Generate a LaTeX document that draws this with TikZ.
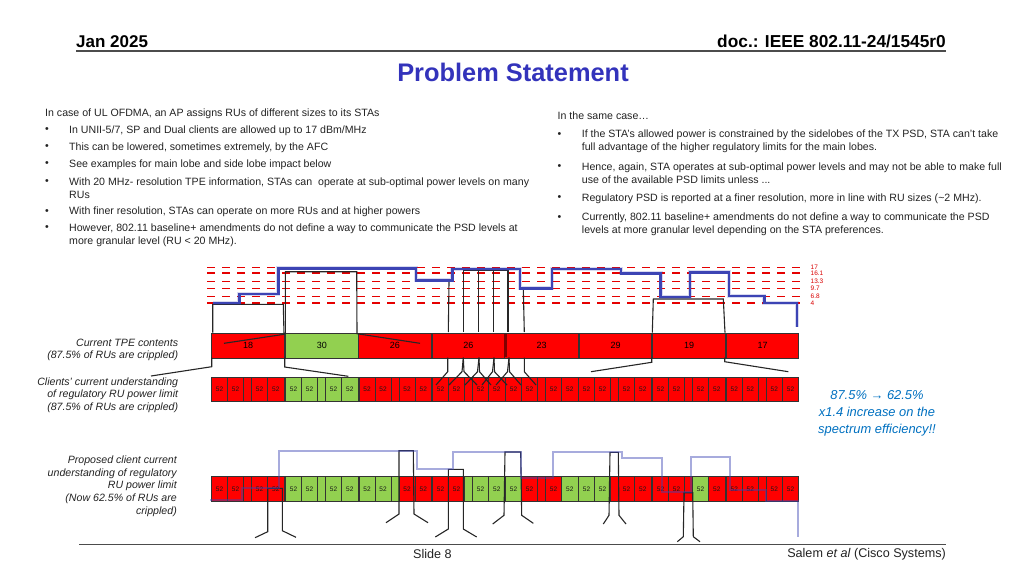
\documentclass[tikz,border=0pt]{standalone}
\usepackage{fontspec}
\setmainfont{Liberation Sans}
\definecolor{rured}{HTML}{FF0000}
\definecolor{rugreen}{HTML}{92D050}
\definecolor{titleblue}{HTML}{3333BB}
\definecolor{psdblue}{HTML}{3C44B4}
\definecolor{noteblue}{HTML}{0070C0}
\definecolor{txtgray}{HTML}{222222}
\tikzset{
	txt/.style={inner sep=0pt, anchor=west, align=left, text=txtgray, font=\fontsize{10.6}{12.8}\selectfont},
	sidenote/.style={inner sep=0pt, anchor=east, align=right, text=txtgray, font=\itshape\fontsize{10.6}{12.7}\selectfont},
	rucell/.style={draw=black!80, line width=1.1pt, inner sep=0pt, anchor=north west, minimum height=24.5pt, text=black!90, font=\fontsize{6.5}{7}\selectfont},
	tpecell/.style={draw=black!80, line width=1.1pt, inner sep=0pt, anchor=north west, minimum height=24.5pt, text=black, font=\fontsize{9}{10}\selectfont},
	limit/.style={draw=red!90!black, line width=1.3pt, dash pattern=on 8pt off 7pt},
	limittxt/.style={inner sep=0pt, anchor=west, text=red!85!black, font=\fontsize{6.5}{7}\selectfont},
	psdline/.style={draw=psdblue, line width=2.4pt, line join=miter, preaction={draw=psdblue, opacity=.2, line width=4pt}},
	psdpale/.style={draw=psdblue, line width=2.2pt, opacity=.45},
	zoomline/.style={draw=black!85, line width=1.1pt},
}
\begin{document}
\begin{tikzpicture}[x=1pt, y=-1pt]
\useasboundingbox (0,0) rectangle (1024,576);

% header and footer
\node[inner sep=0pt, anchor=base west, font=\bfseries\fontsize{17}{18}\selectfont] (date) at (76,47) {Jan 2025};
\node[inner sep=0pt, anchor=base east, font=\bfseries\fontsize{17.3}{18}\selectfont] (doc) at (946,47) {doc.: IEEE 802.11-24/1545r0};
\node[inner sep=0pt, text=titleblue, font=\bfseries\fontsize{25.4}{28}\selectfont] (title) at (513,72) {Problem Statement};
\draw[black!70, line width=1.3pt] (76,51) -- (946,51);
\draw[black!70, line width=1.5pt] (79,544.5) -- (946,544.5);
\node[inner sep=0pt, text=txtgray, font=\fontsize{12.6}{14}\selectfont] (slide) at (432.5,554) {Slide 8};
\node[inner sep=0pt, anchor=east, text=txtgray, font=\fontsize{12.6}{14}\selectfont] (author) at (946,554) {Salem \textit{et al} (Cisco Systems)};

% left column
\node[txt] (lhead) at (45,113.3) {In case of UL OFDMA, an AP assigns RUs of different sizes to its STAs};
\foreach \y [count=\i] in {130.3,147.3,164.3,181.7,211.7,228.3}
	\node[txt] (lbul\i) at (45,\y) {•};
\node[txt] (la) at (69,130.3) {In UNII-5/7, SP and Dual clients are allowed up to 17 dBm/MHz};
\node[txt] (lb) at (69,147.3) {This can be lowered, sometimes extremely, by the AFC};
\node[txt] (lc) at (69,164.3) {See examples for main lobe and side lobe impact below};
\node[txt] (ld) at (69,188) {With 20 MHz- resolution TPE information, STAs can\ \ operate at sub-optimal power levels on many\\RUs};
\node[txt] (le) at (69,211.7) {With finer resolution, STAs can operate on more RUs and at higher powers};
\node[txt] (lf) at (69,235) {However, 802.11 baseline+ amendments do not define a way to communicate the PSD levels at\\more granular level (RU < 20 MHz).};

% right column
\node[txt] (rhead) at (557.5,115.3) {In the same case…};
\foreach \y [count=\i] in {134.7,166.7,198.3,218}
	\node[txt] (rbul\i) at (557.5,\y) {•};
\node[txt] (ra) at (581.7,141) {If the STA’s allowed power is constrained by the sidelobes of the TX PSD, STA can’t take\\full advantage of the higher regulatory limits for the main lobes.};
\node[txt] (rb) at (581.7,173) {Hence, again, STA operates at sub-optimal power levels and may not be able to make full\\use of the available PSD limits unless ...};
\node[txt] (rc) at (581.7,198.3) {Regulatory PSD is reported at a finer resolution, more in line with RU sizes (\textasciitilde 2 MHz).};
\node[txt] (rd) at (581.7,224.3) {Currently, 802.11 baseline+ amendments do not define a way to communicate the PSD\\levels at more granular level depending on the STA preferences.};

% side notes
\node[sidenote] (tpenote) at (178.3,350) {Current TPE contents\\(87.5\% of RUs are crippled)};
\node[sidenote] (clinote) at (178.3,395) {Clients’ current understanding\\of regulatory RU power limit\\(87.5\% of RUs are crippled)};
\node[sidenote] (newnote) at (177,486) {Proposed client current\\understanding of regulatory\\RU power limit\\(Now 62.5\% of RUs are\\crippled)};
\node[inner sep=0pt, align=center, text=noteblue, font=\itshape\fontsize{12.9}{17}\selectfont] (gain) at (877,413) {87.5\% {\upshape\bfseries →} 62.5\%\\x1.4 increase on the\\spectrum efficiency!!};

% regulatory limits
\foreach \y/\v [count=\i] in {267.3/17,273/16.1,281.7/13.3,288.3/9.7,296.7/6.8,303/4}
{
	\draw[limit] (207,\y) -- (803,\y);
	\node[limittxt] (lim\i) at (810.5,\y) {\v};
}

% TPE row
\foreach \xa/\xb/\c/\v [count=\i] in {211/73/rured/18,285/72.5/rugreen/30,358/72.5/rured/26,431.5/72.5/rured/26,504/74/rured/23,579/72/rured/29,652/73/rured/19,726/72/rured/17}
	\node[tpecell, fill=\c, minimum width=\xb pt] (tpe\i) at (\xa,333) {\v};
\fill[red!50!black] (504,333.5) rectangle (506.5,357);

% RU rows
\foreach \gx [count=\g] in {211,285,358.5,432,505,578,652,725.7}
	\foreach \a/\w/\v [count=\i] in {0/16/52,16/16/52,32/8/,40/16/52,56/16.5/52}
	{
		\ifnum\g=2 \def\c{rugreen}\else\def\c{rured}\fi
		\node[rucell, fill=\c, minimum width=\w pt, minimum height=24pt] (cur\g\i) at (\gx+\a,377) {\v};
	}
\foreach \gx/\ca/\cb/\cc/\cd/\ce [count=\g] in {
	211/rured/rured/rured/rured/rured,
	285/rugreen/rugreen/rugreen/rugreen/rugreen,
	358.5/rugreen/rugreen/rugreen/rured/rured,
	432/rured/rured/rugreen/rugreen/rugreen,
	505/rugreen/rured/rured/rured/rugreen,
	578/rugreen/rugreen/rured/rured/rured,
	652/rured/rured/rured/rugreen/rured,
	725.7/rured/rured/rured/rured/rured}
	\foreach \a/\w/\c/\v [count=\i] in {0/16/\ca/52,16/16/\cb/52,32/8/\cc/,40/16/\cd/52,56/16.5/\ce/52}
		\node[rucell, fill=\c, minimum width=\w pt, minimum height=25pt] (new\g\i) at (\gx+\a,476) {\v};

% zoom lines, current rows
\draw[zoomline] (212.7,332.7) -- (212.7,304.3) -- (283.3,304.3) -- (284,334.3) -- (224,343.3);
\draw[zoomline] (420,343.3) -- (357,333.7) -- (356.7,271.7) -- (285.3,271.7) -- (285.3,333.7);
\draw[zoomline] (151,376) -- (211.7,366.7) -- (211.7,357.7);
\draw[zoomline] (284.7,357.7) -- (284.7,367) -- (348.3,376.3);
\draw[zoomline] (591,371.7) -- (651.7,362.3) -- (651.7,357.7);
\draw[zoomline] (724.7,357.7) -- (724.7,361.7) -- (788.3,371.7);
\draw[zoomline] (652.3,332.7) -- (653.3,299) -- (723.3,299) -- (725,332.7);
\draw[zoomline] (449,282) -- (448.3,332);
\draw[zoomline] (463.7,270.3) -- (508,270.3);
\foreach \x in {463.7,478.3,493.3,508}
	\draw[zoomline] (\x,270.3) -- (\x,332);
\draw[zoomline] (523.3,288.7) -- (524.3,332);
\foreach \xa/\xb/\xc in {447.7/447.7/436,463.3/462/449,463.3/464/477,479/477.5/465,479/479.5/491,494/492.5/482,494/494.5/507,509/507.5/496,509/509.5/521,524.3/524.3/536}
	\draw[zoomline] (\xa,357.7) -- (\xb,371.7) -- (\xc,385);

% zoom lines, proposed row
\draw[zoomline] (386,522.7) -- (399,514) -- (399,450.7) -- (413.3,450.7) -- (414,514) -- (428,522.7);
\draw[zoomline] (435.3,537) -- (448.3,529) -- (448.3,469.3) -- (463.3,469.3) -- (463.3,529) -- (476.7,537);
\draw[zoomline] (255,537.7) -- (267.7,531.7) -- (267.7,488.3) -- (282.3,488.3) -- (282.3,530.7) -- (296,537.3);
\draw[zoomline] (492.7,524) -- (504,515.3) -- (505,452) -- (520.7,452) -- (521.7,515.3) -- (533.3,523.3);
\draw[zoomline] (603.3,524) -- (609,515.3) -- (610,452.3) -- (618.3,452.3) -- (619,515.3) -- (626,524);
\draw[zoomline] (677.3,541.7) -- (683.3,536.7) -- (684,492.7) -- (692.7,492.7) -- (693.3,536.7) -- (700,541.7);

% PSD steps
\draw[psdline] (212.7,303) -- (239.3,303) -- (239.3,293.7) -- (278.3,293.7) -- (278.3,268.3) -- (416,268.3) -- (416,280.3) -- (452.3,280.3) -- (452.3,269) -- (520,269) -- (520,288.3) -- (551.7,288.3) -- (551.7,268.7) -- (620.7,268.7) -- (620.7,273.3) -- (660.5,273.3) -- (660.5,297) -- (690,297) -- (690,272.3) -- (728.7,272.3) -- (728.7,296) -- (764.3,296) -- (764.3,303) -- (796.7,303) -- (796.7,326.5);
\draw[psdpale] (210,500) -- (241.7,500) -- (241.7,487.7) -- (279,487.7) -- (279,451) -- (416.7,451) -- (416.7,468.7) -- (453,468.7) -- (453,452) -- (521,452) -- (521,478) -- (553.3,478) -- (553.3,451.7) -- (622.3,451.7) -- (622.3,458.3) -- (662,458.3) -- (662,492.3) -- (691.3,492.3) -- (691.3,456.7) -- (729.7,456.7) -- (729.7,490) -- (765.7,490) -- (765.7,501) -- (798,501) -- (798,537);

\end{tikzpicture}
\end{document}
